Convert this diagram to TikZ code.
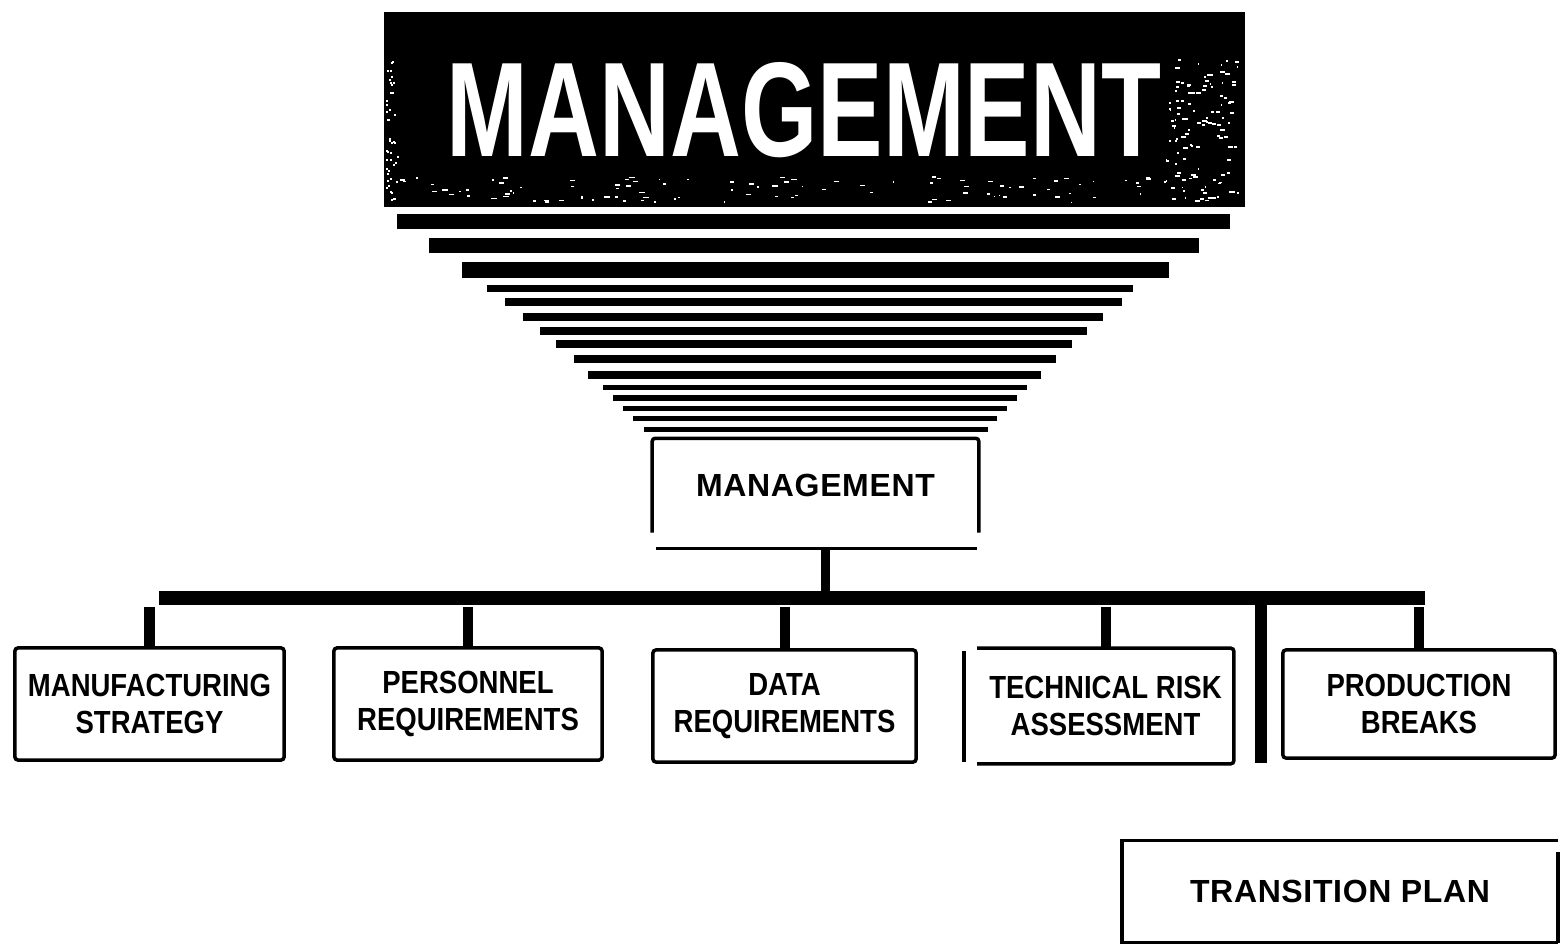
\documentclass[tikz,border=0pt]{standalone}
\usepackage{fontspec}
\setmainfont{Liberation Sans}
\newfontfamily\cf{Liberation Sans}[FakeStretch=0.86]
\newfontfamily\wf{Liberation Sans}[LetterSpace=2.0]
\usetikzlibrary{calc}
\tikzset{
  boxline/.style={line width=0.035cm},
  box/.style={boxline, draw, rounded corners=0.03cm, minimum width=#1, minimum height=1.12cm,
    inner sep=0pt, align=center, font=\cf\bfseries\fontsize{9.1}{10.4}\selectfont},
  widebox/.style={minimum width=#1, inner sep=0pt, align=center,
    font=\wf\bfseries\fontsize{9.1}{10.4}\selectfont},
  busbar/.style={line width=0.13cm},
  dropline/.style={line width=0.10cm},
  stripe/.style={fill=black},
}
\begin{document}
\begin{tikzpicture}[x=0.01cm,y=-0.01cm]
\useasboundingbox[fill=white] (0,0) rectangle (1560,946);

% banner
\node[fill=black, minimum width=8.61cm, minimum height=1.95cm, inner sep=0pt] (banner) at (814.5,109.5) {};
\node[inner sep=0pt, text=white] (title) at (804,110)
  {\resizebox{7.14cm}{0.94cm}{\bfseries MANAGEMENT}};
\pgfmathsetseed{7}
\foreach \i in {1,...,110}{
  \pgfmathsetmacro\xx{400+rnd*830}
  \pgfmathsetmacro\yy{176+rnd*26}
  \pgfmathsetmacro\ww{1+rnd*5}
  \fill[white] (\xx,\yy) rectangle ++(\ww,1.5);
}
\foreach \i in {1,...,45}{
  \pgfmathsetmacro\xx{385+rnd*12}
  \pgfmathsetmacro\yy{60+rnd*145}
  \fill[white] (\xx,\yy) rectangle ++(2,2);
}
\foreach \i in {1,...,110}{
  \pgfmathsetmacro\xx{1165+rnd*72}
  \pgfmathsetmacro\yy{58+rnd*140}
  \pgfmathsetmacro\ww{1+rnd*4}
  \fill[white] (\xx,\yy) rectangle ++(\ww,2);
}

% stripes
\foreach \ya/\yb/\xa/\xb in {214/229/397/1230, 238/253/429/1199, 262/278/462/1169,
  285/292/487/1133, 298/306/505/1122, 313/321/523/1103, 327/335/540/1087,
  340/348/556/1072, 355/363/574/1056, 371/379/588/1041, 385/390/603/1027,
  395/401/613/1017, 406/411/623/1007, 416/421/633/997, 427/432/644/988}
  \fill[stripe] (\xa,\ya) rectangle (\xb,\yb);

% management box
\node[widebox=3.25cm, minimum height=0.93cm] (mg) at (815.5,485.5) {MANAGEMENT};
\draw[boxline, rounded corners=0.03cm] (mg.south west) -- (mg.north west) -- (mg.north east) -- (mg.south east);
\draw[boxline] ($(mg.south west)+(4,16)$) coordinate (mgbl) -- ($(mg.south east)+(-2,16)$) coordinate (mgbr);
\coordinate (mgb) at (825,548);

% bus
\coordinate (barL) at (159,598);
\coordinate (barR) at (1425,598);
\coordinate (dropTop) at (0,607);
\draw[dropline, line width=0.09cm] (mgb) -- (mgb |- barL);
\draw[busbar] (barL) -- (barR);

% second-level boxes
\node[box=2.69cm] (m1) at (149.5,704) {MANUFACTURING\\STRATEGY};
\node[box=2.68cm] (m2) at (468,704) {PERSONNEL\\REQUIREMENTS};
\node[box=2.63cm] (m3) at (784.5,706) {DATA\\REQUIREMENTS};
\node[box=2.53cm, draw=none] (m4) at (1105.5,706) {TECHNICAL RISK\\ASSESSMENT};
\draw[boxline, rounded corners=0.03cm] (m4.north west) -- (m4.north east) -- (m4.south east) -- (m4.south west);
\draw[boxline] ($(m4.north west)+(-13,3)$) -- ($(m4.south west)+(-13,-2)$);
\node[box=2.72cm, minimum height=1.08cm] (m5) at (1419,704) {PRODUCTION\\BREAKS};

\foreach \n in {m1,m2,m3,m4,m5}
  \draw[dropline] (\n.north) -- (\n.north |- dropTop);

% separator
\coordinate (sepT) at (1261,592);
\coordinate (sepB) at (1261,763);
\draw[line width=0.12cm] (sepT) -- (sepB);

% transition plan
\node[widebox=4.34cm, minimum height=1.01cm] (tp) at (1340,891.5) {TRANSITION PLAN};
\draw[boxline] (tp.north east) -- (tp.north west) -- (tp.south west) -- (tp.south east);
\draw[boxline] ($(tp.north east)+(0,12)$) -- (tp.south east);
\end{tikzpicture}
\end{document}
